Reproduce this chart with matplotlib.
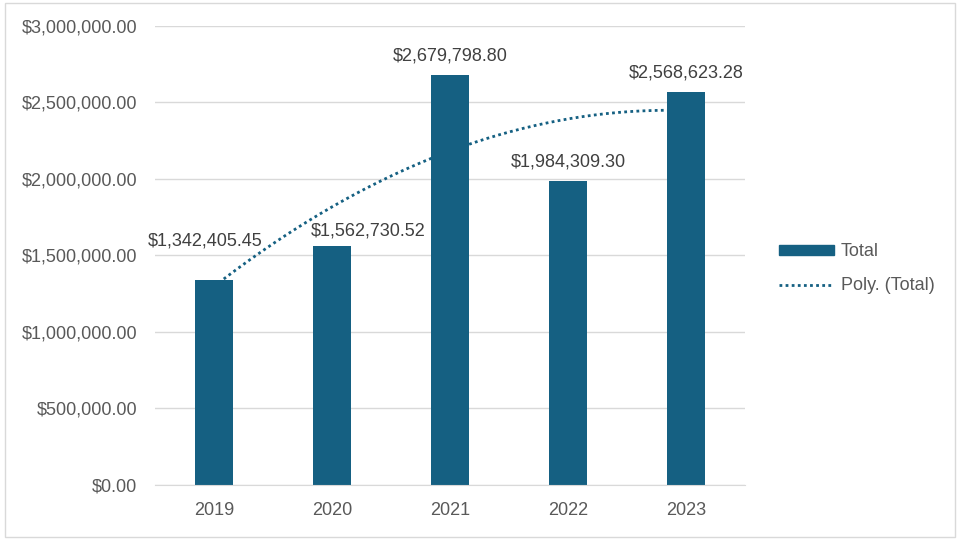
import numpy as np
import matplotlib.pyplot as plt
from matplotlib.patches import Rectangle
from matplotlib.lines import Line2D
from matplotlib.patches import Patch

years = ["2019", "2020", "2021", "2022", "2023"]
totals = [1342405.45, 1562730.52, 2679798.80, 1984309.30, 2568623.28]
# the first two labels were dragged aside in the original workbook (points)
label_dx = [-6.5, 26, 0, 0, 0]
label_dy = [28, 11, 14, 14, 14]

bar_color = "#156082"
text_color = "#595959"
plt.rcParams['font.family'] = ['Liberation Sans', 'DejaVu Sans']

fig = plt.figure(figsize=(9.6, 5.4), dpi=100)
ax = fig.add_axes([0.1615, 0.1019, 0.6146, 0.8500])

x = np.arange(len(years))
ax.bar(x, totals, width=0.32, color=bar_color, zorder=2)

# polynomial (order 2) trendline, like Excel's Poly. trendline
coef = np.polyfit(x + 1, totals, 2)
xs = np.linspace(0, len(years) - 1, 200)
ax.plot(xs, np.polyval(coef, xs + 1), linestyle=(0, (1, 1.2)), color=bar_color,
        linewidth=2, zorder=3)

for xi, v, dx, dy in zip(x, totals, label_dx, label_dy):
    ax.annotate("${:,.2f}".format(v), (xi, v), xytext=(dx, dy),
                textcoords="offset points", ha="center", va="center",
                fontsize=13, color="#404040", zorder=4)

ax.set_xlim(-0.5, len(years) - 0.5)
ax.set_ylim(0, 3000000)
ax.set_yticks(np.arange(0, 3000001, 500000))
ax.set_yticklabels(["${:,.2f}".format(t) for t in ax.get_yticks()])
ax.set_xticks(x)
ax.set_xticklabels(years)
ax.tick_params(axis="both", length=0, labelsize=13, labelcolor=text_color)
ax.tick_params(axis="y", pad=13)
ax.tick_params(axis="x", pad=12)
ax.grid(axis="y", color="#d9d9d9", linewidth=1, zorder=0)
for s in ["top", "right", "left"]:
    ax.spines[s].set_visible(False)
ax.spines["bottom"].set_color("#d9d9d9")

handles = [Patch(facecolor=bar_color, edgecolor=bar_color),
           Line2D([0], [0], linestyle=(0, (1, 1.2)), color=bar_color, linewidth=2)]
fig.legend(handles, ["Total", "Poly. (Total)"], loc="center left",
           bbox_to_anchor=(0.795, 0.502), frameon=False, fontsize=13,
           labelcolor=text_color, handlelength=3.0, handleheight=0.55,
           labelspacing=0.95, handletextpad=0.4)

fig.add_artist(Rectangle((0.005, 0.006), 0.99, 0.988, transform=fig.transFigure,
                         fill=False, edgecolor="#d9d9d9", linewidth=1))

fig.savefig("out.png", dpi=100)
